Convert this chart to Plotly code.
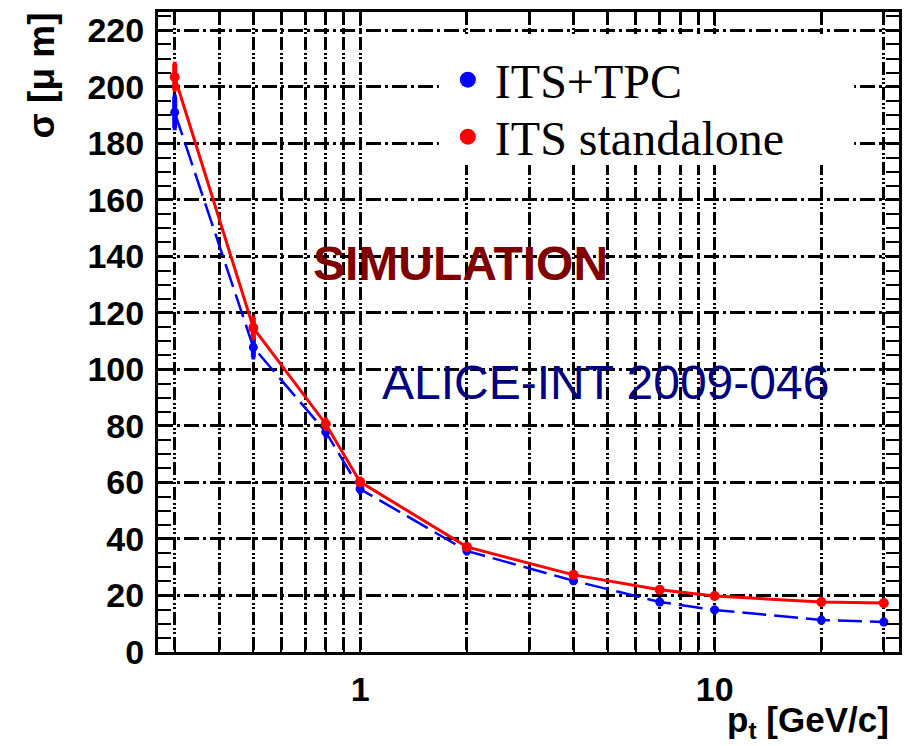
import plotly.graph_objects as go

# ---------------- data ----------------
pt = [0.3, 0.5, 0.8, 1, 2, 4, 7, 10, 20, 30]
sigma_its_tpc = [191.0, 107.8, 77.9, 57.7, 35.8, 25.2, 17.7, 14.9, 11.3, 10.6]
err_its_tpc = [5.5, 3.4, 1.5, 1.0, 0.8, 0.6, 0.6, 0.6, 0.6, 0.6]
sigma_its_sa = [203.5, 114.7, 80.7, 60.2, 37.2, 27.3, 22.0, 19.8, 17.7, 17.3]
err_its_sa = [4.5, 3.5, 1.5, 1.0, 0.8, 0.6, 0.6, 0.6, 0.6, 0.6]

x_tickvals = [1, 10]
x_ticktext = ["1", "10"]
x_minorvals = [0.3, 0.4, 0.5, 0.6, 0.7, 0.8, 0.9, 2, 3, 4, 5, 6, 7, 8, 9, 20, 30]
y_tickvals = list(range(0, 221, 20))

series_names = ["ITS+TPC", "ITS standalone"]
series_colors = ["#0000ff", "#ff0000"]

# ---------------- geometry helpers ----------------
W, H = 910, 746
L, R, T, B = 158, 902, 12, 652


def px_x(px):
    return (px - L) / (R - L)


def px_y(py):
    return (B - py) / (B - T)


SANS = "Liberation Sans, Arial, Helvetica, sans-serif"
SERIF = "Liberation Serif, Times New Roman, serif"

fig = go.Figure()

# ITS+TPC (blue dashed)
fig.add_trace(go.Scatter(
    x=pt, y=sigma_its_tpc, mode="lines+markers",
    line=dict(color=series_colors[0], width=2.5, dash="24px,8px"),
    marker=dict(color=series_colors[0], size=9, symbol="circle"),
    error_y=dict(type="data", array=err_its_tpc, color=series_colors[0],
                 thickness=5, width=2),
    showlegend=False, hoverinfo="x+y",
))
# ITS standalone (red solid)
fig.add_trace(go.Scatter(
    x=pt, y=sigma_its_sa, mode="lines+markers",
    line=dict(color=series_colors[1], width=3),
    marker=dict(color=series_colors[1], size=10, symbol="circle"),
    error_y=dict(type="data", array=err_its_sa, color=series_colors[1],
                 thickness=5, width=2),
    showlegend=False, hoverinfo="x+y",
))

# legend-only entries (dots), each in its own legend for exact placement
legend_ids = ["legend", "legend2"]
for name, col, lid in zip(series_names, series_colors, legend_ids):
    fig.add_trace(go.Scatter(
        x=[None], y=[None], mode="markers", name=name,
        marker=dict(color=col, size=16), showlegend=True, legend=lid,
    ))

GRID_H = "15px,4px,3px,4px"
GRID_V = "13px,3px,2px,2px,2px,3px"

legend_common = dict(
    xanchor="left", yanchor="middle",
    bgcolor="rgba(255,255,255,0)", borderwidth=0,
    font=dict(family=SERIF, size=48, color="black"),
    itemsizing="trace", itemwidth=44,
)

fig.update_layout(
    width=W, height=H,
    margin=dict(l=L, r=W - R, t=T, b=H - B, pad=0),
    plot_bgcolor="white", paper_bgcolor="white",
    font=dict(family=SANS, color="black"),
    xaxis=dict(
        type="log",
        range=[-0.570, 1.520],
        tickmode="array", tickvals=x_tickvals, ticktext=x_ticktext,
        ticks="inside", ticklen=14, tickwidth=2, tickcolor="black",
        tickfont=dict(family=SANS, size=34, color="black", weight="bold"),
        ticklabelstandoff=5,
        showgrid=True, gridcolor="black", gridwidth=3, griddash=GRID_V,
        showline=True, linecolor="black", linewidth=3, mirror="allticks",
        minor=dict(tickmode="array", tickvals=x_minorvals, ticks="inside",
                   ticklen=10, tickwidth=2, tickcolor="black",
                   showgrid=True, gridcolor="black", gridwidth=2.5,
                   griddash=GRID_V),
        zeroline=False,
    ),
    yaxis=dict(
        range=[0, 226.5],
        tickmode="array", tickvals=y_tickvals,
        ticks="inside", ticklen=14, tickwidth=2, tickcolor="black",
        tickfont=dict(family=SANS, size=34, color="black", weight="bold"),
        ticklabelstandoff=4,
        showgrid=True, gridcolor="black", gridwidth=3, griddash=GRID_H,
        showline=True, linecolor="black", linewidth=3, mirror="allticks",
        minor=dict(dtick=5, ticks="inside", ticklen=13, tickwidth=2,
                   tickcolor="black", showgrid=False),
        zeroline=False,
    ),
    legend=dict(x=px_x(442), y=px_y(80), **legend_common),
    legend2=dict(x=px_x(442), y=px_y(137), **legend_common),
    showlegend=True,
)

# white legend box hiding the grid
fig.add_shape(type="rect", xref="paper", yref="paper",
              x0=px_x(440), x1=px_x(857), y0=px_y(165), y1=px_y(35),
              fillcolor="white", line=dict(width=0), layer="above")

# text annotations
fig.add_annotation(x=px_x(462), y=px_y(263), xref="paper", yref="paper",
                   text="SIMULATION", showarrow=False,
                   font=dict(family=SANS, size=48, color="#800000", weight="bold"),
                   xanchor="center", yanchor="middle")
fig.add_annotation(x=px_x(607), y=px_y(382), xref="paper", yref="paper",
                   text="ALICE-INT 2009-046", showarrow=False,
                   font=dict(family=SANS, size=48, color="#000080"),
                   xanchor="center", yanchor="middle")
fig.add_annotation(x=px_x(42), y=px_y(75), xref="paper", yref="paper",
                   text="σ [μ m]", showarrow=False, textangle=-90,
                   font=dict(family=SANS, size=37, color="black", weight="bold"),
                   xanchor="center", yanchor="middle")
fig.add_annotation(x=px_x(894), y=px_y(722), xref="paper", yref="paper",
                   text="p<sub>t</sub> [GeV/c]", showarrow=False,
                   font=dict(family=SANS, size=35, color="black", weight="bold"),
                   xanchor="right", yanchor="middle")

fig.write_html("out.html")
